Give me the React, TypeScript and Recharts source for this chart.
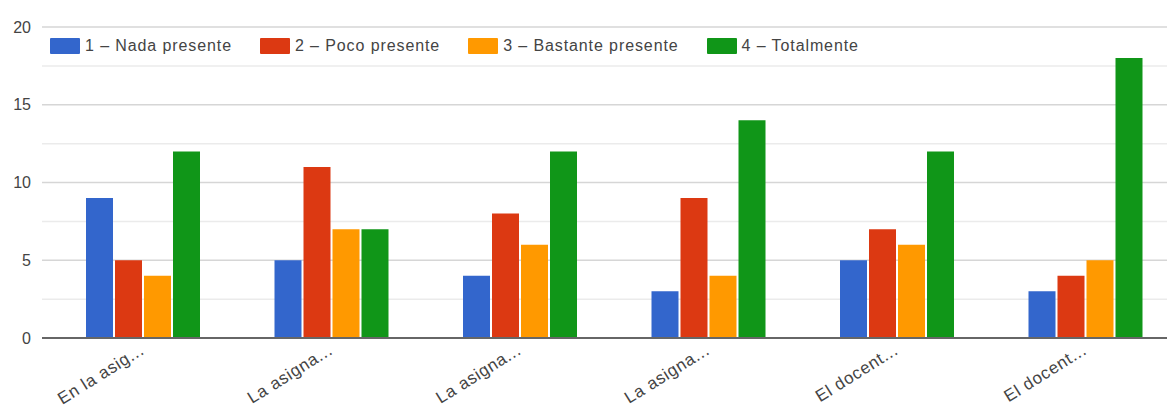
import React from 'react';
import { BarChart, Bar, XAxis, YAxis, CartesianGrid, Legend } from 'recharts';

const categories = ['En la asig...', 'La asigna...', 'La asigna...', 'La asigna...', 'El docent...', 'El docent...'];
const nada = [9, 5, 4, 3, 5, 3];
const poco = [5, 11, 8, 9, 7, 4];
const bastante = [4, 7, 6, 4, 6, 5];
const totalmente = [12, 7, 12, 14, 12, 18];
const yTicks = [0, 5, 10, 15, 20];
const minorTicks = [2.5, 7.5, 12.5, 17.5];

const seriesNames = ['1 – Nada presente', '2 – Poco presente', '3 – Bastante presente', '4 – Totalmente'];
const seriesKeys = ['nada', 'poco', 'bastante', 'totalmente'];
const seriesColors = ['#3366cc', '#dc3912', '#ff9900', '#109618'];

const data = categories.map((c, i) => ({
  name: c,
  nada: nada[i],
  poco: poco[i],
  bastante: bastante[i],
  totalmente: totalmente[i],
}));

const FONT = '"Liberation Sans", Arial, sans-serif';

const XTick = (props: any) => {
  const { x, y, payload } = props;
  return (
    <g transform={`translate(${x + 2},${y + 7})`}>
      <text textAnchor="end" transform="rotate(-32)" fontSize={17} letterSpacing={0.7} fill="#444" fontFamily={FONT}>
        {payload.value}
      </text>
    </g>
  );
};

const LegendContent = () => (
  <div style={{ display: 'flex', alignItems: 'center', fontFamily: FONT, fontSize: 16, color: '#444', letterSpacing: 0.9, whiteSpace: 'nowrap' }}>
    {seriesNames.map((n, i) => (
      <div key={n} style={{ display: 'flex', alignItems: 'center', marginRight: 28 }}>
        <div style={{ width: 30, height: 16, background: seriesColors[i], marginRight: 5, borderRadius: 1 }} />
        <span>{n}</span>
      </div>
    ))}
  </div>
);

export default function App() {
  return (
    <div style={{ position: 'fixed', left: 0, top: 0, width: 1167, height: 412, overflow: 'hidden', background: '#fff' }}>
      <BarChart
        width={1180}
        height={412}
        data={data}
        margin={{ top: 27, right: 0, left: 0, bottom: 0 }}
        barSize={27}
        barGap={2}
      >
        <CartesianGrid vertical={false} horizontalValues={minorTicks} stroke="#ebebeb" strokeWidth={1.5} />
        <CartesianGrid vertical={false} horizontalValues={yTicks} stroke="#d6d6d6" strokeWidth={1.5} />
        <XAxis
          dataKey="name"
          tick={<XTick />}
          tickLine={false}
          axisLine={{ stroke: '#666', strokeWidth: 2 }}
          padding={{ left: 7, right: 0 }}
          interval={0}
          height={74}
        />
        <YAxis
          width={42}
          domain={[0, 20]}
          ticks={yTicks}
          axisLine={false}
          tickLine={false}
          tickMargin={5}
          tick={{ fontSize: 16, fill: '#444', fontFamily: FONT }}
        />
        <Legend
          verticalAlign="middle"
          align="center"
          layout="horizontal"
          content={<LegendContent />}
          wrapperStyle={{ top: 37, left: 50, width: 'auto' }}
        />
        {seriesKeys.map((k, i) => (
          <Bar key={k} dataKey={k} name={seriesNames[i]} fill={seriesColors[i]} isAnimationActive={false} />
        ))}
      </BarChart>
    </div>
  );
}
